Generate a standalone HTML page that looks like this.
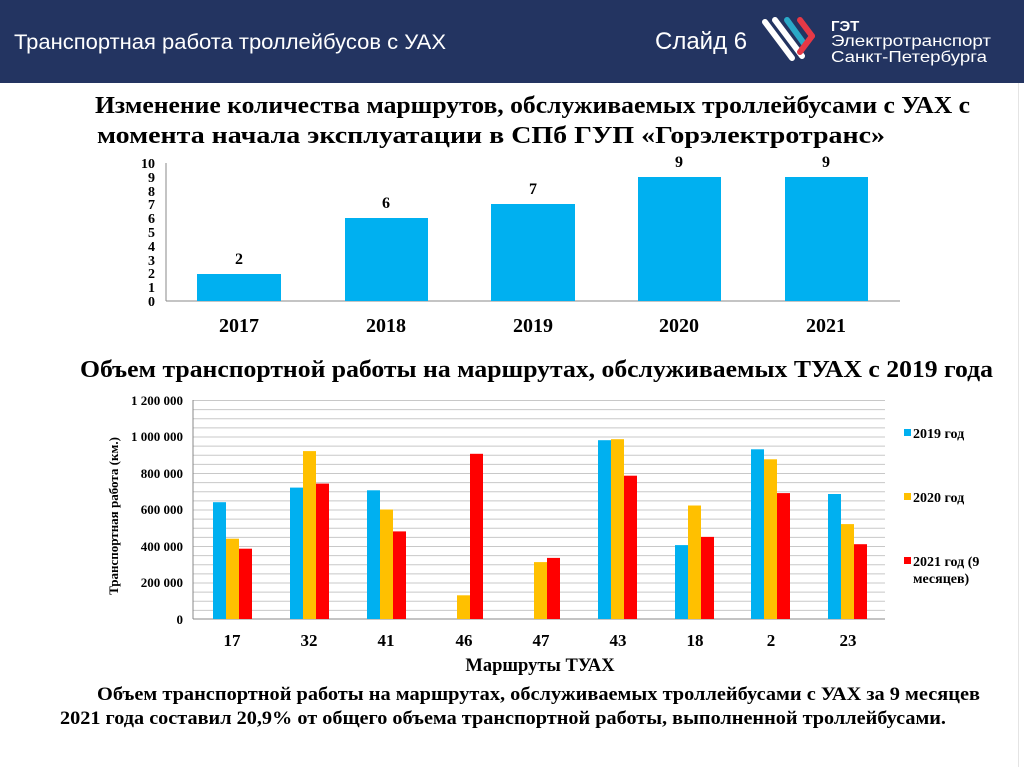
<!DOCTYPE html>
<html><head><meta charset="utf-8"><style>
body{margin:0;width:1024px;height:767px;background:#fff;overflow:hidden}
svg{display:block}
.s{font-family:"Liberation Serif",serif;font-weight:bold;fill:#000}
</style></head><body>
<svg width="1024" height="767" xmlns="http://www.w3.org/2000/svg">
<rect x="0" y="0" width="1024" height="83" fill="#233461"/>
<text x="14" y="49" font-family="Liberation Sans,sans-serif" font-size="21" fill="#fff" textLength="432" lengthAdjust="spacingAndGlyphs">Транспортная работа троллейбусов с УАХ</text>
<text x="655" y="49" font-family="Liberation Sans,sans-serif" font-size="24" fill="#fff">Слайд 6</text>
<g stroke-linecap="round" stroke-width="6" fill="none">
<line x1="765" y1="22" x2="792" y2="58" stroke="#fff"/>
<line x1="775" y1="20" x2="802" y2="56" stroke="#fff"/>
<line x1="787" y1="20" x2="805" y2="45" stroke="#2aa9c8"/>
<line x1="800" y1="20" x2="812" y2="36" stroke="#e63946"/>
<line x1="812" y1="36" x2="800" y2="52" stroke="#e63946"/>
</g>
<text x="831" y="31" font-family="Liberation Sans,sans-serif" font-size="15" font-weight="bold" fill="#fff">ГЭТ</text>
<text x="831" y="46" font-family="Liberation Sans,sans-serif" font-size="16" fill="#fff" textLength="160" lengthAdjust="spacingAndGlyphs">Электротранспорт</text>
<text x="831" y="62" font-family="Liberation Sans,sans-serif" font-size="16" fill="#fff" textLength="156" lengthAdjust="spacingAndGlyphs">Санкт-Петербурга</text>
<rect x="1018" y="83" width="1" height="684" fill="#e4e4e4"/>

<text x="95" y="113" class="s" font-size="24" textLength="875" lengthAdjust="spacingAndGlyphs">Изменение количества маршрутов, обслуживаемых троллейбусами с УАХ с</text>
<text x="97" y="143" class="s" font-size="24" textLength="788" lengthAdjust="spacingAndGlyphs">момента начала эксплуатации в СПб ГУП «Горэлектротранс»</text>

<line x1="166" y1="163" x2="166" y2="301" stroke="#888"/>
<line x1="166" y1="301" x2="900" y2="301" stroke="#888"/>
<g class="s" font-size="14" text-anchor="end">
<text x="155" y="168">10</text><text x="155" y="182">9</text><text x="155" y="196">8</text><text x="155" y="209">7</text><text x="155" y="223">6</text><text x="155" y="237">5</text><text x="155" y="251">4</text><text x="155" y="265">3</text><text x="155" y="278">2</text><text x="155" y="292">1</text><text x="155" y="306">0</text>
</g>
<g fill="#00b0f0">
<rect x="197" y="274" width="84" height="27"/>
<rect x="345" y="218" width="83" height="83"/>
<rect x="491" y="204" width="84" height="97"/>
<rect x="638" y="177" width="83" height="124"/>
<rect x="785" y="177" width="83" height="124"/>
</g>
<g class="s" font-size="16" text-anchor="middle">
<text x="239" y="264">2</text><text x="386" y="208">6</text><text x="533" y="194">7</text><text x="679" y="167">9</text><text x="826" y="167">9</text>
</g>
<g class="s" font-size="20" text-anchor="middle">
<text x="239" y="332">2017</text><text x="386" y="332">2018</text><text x="533" y="332">2019</text><text x="679" y="332">2020</text><text x="826" y="332">2021</text>
</g>

<text x="80" y="377" class="s" font-size="24" textLength="913" lengthAdjust="spacingAndGlyphs">Объем транспортной работы на маршрутах, обслуживаемых ТУАХ с 2019 года</text>

<g stroke="#c8c8c8" stroke-width="1">
<line x1="193" x2="885" y1="400.5" y2="400.5"/><line x1="193" x2="885" y1="409.6" y2="409.6"/><line x1="193" x2="885" y1="418.7" y2="418.7"/><line x1="193" x2="885" y1="427.9" y2="427.9"/><line x1="193" x2="885" y1="437" y2="437"/><line x1="193" x2="885" y1="446.1" y2="446.1"/><line x1="193" x2="885" y1="455.2" y2="455.2"/><line x1="193" x2="885" y1="464.4" y2="464.4"/><line x1="193" x2="885" y1="473.5" y2="473.5"/><line x1="193" x2="885" y1="482.6" y2="482.6"/><line x1="193" x2="885" y1="491.7" y2="491.7"/><line x1="193" x2="885" y1="500.9" y2="500.9"/><line x1="193" x2="885" y1="510" y2="510"/><line x1="193" x2="885" y1="519.1" y2="519.1"/><line x1="193" x2="885" y1="528.2" y2="528.2"/><line x1="193" x2="885" y1="537.4" y2="537.4"/><line x1="193" x2="885" y1="546.5" y2="546.5"/><line x1="193" x2="885" y1="555.6" y2="555.6"/><line x1="193" x2="885" y1="564.7" y2="564.7"/><line x1="193" x2="885" y1="573.9" y2="573.9"/><line x1="193" x2="885" y1="583" y2="583"/><line x1="193" x2="885" y1="592.1" y2="592.1"/><line x1="193" x2="885" y1="601.2" y2="601.2"/><line x1="193" x2="885" y1="610.4" y2="610.4"/>
</g>
<line x1="193" y1="400" x2="193" y2="619" stroke="#888"/>
<line x1="193" y1="619" x2="885" y2="619" stroke="#888"/>
<g class="s" font-size="13" text-anchor="end">
<text x="183" y="405">1 200 000</text><text x="183" y="441">1 000 000</text><text x="183" y="478">800 000</text><text x="183" y="514">600 000</text><text x="183" y="551">400 000</text><text x="183" y="587">200 000</text><text x="183" y="624">0</text>
</g>
<text transform="translate(118,516) rotate(-90)" text-anchor="middle" class="s" font-size="13">Транспортная работа (км.)</text>
<g>
<rect x="213" y="502.2" width="13" height="116.8" fill="#00b0f0"/><rect x="226" y="538.7" width="13" height="80.3" fill="#ffc000"/><rect x="239" y="548.7" width="13" height="70.3" fill="#ff0000"/>
<rect x="290" y="487.6" width="13" height="131.4" fill="#00b0f0"/><rect x="303" y="451.1" width="13" height="167.9" fill="#ffc000"/><rect x="316" y="483.6" width="13" height="135.4" fill="#ff0000"/>
<rect x="367" y="490.3" width="13" height="128.7" fill="#00b0f0"/><rect x="380" y="509.5" width="13" height="109.5" fill="#ffc000"/><rect x="393" y="531.4" width="13" height="87.6" fill="#ff0000"/>
<rect x="457" y="595.3" width="13" height="23.7" fill="#ffc000"/><rect x="470" y="453.8" width="13" height="165.2" fill="#ff0000"/>
<rect x="534" y="562.1" width="13" height="56.9" fill="#ffc000"/><rect x="547" y="557.9" width="13" height="61.1" fill="#ff0000"/>
<rect x="598" y="440.2" width="13" height="178.8" fill="#00b0f0"/><rect x="611" y="439.2" width="13" height="179.8" fill="#ffc000"/><rect x="624" y="475.7" width="13" height="143.3" fill="#ff0000"/>
<rect x="675" y="545.1" width="13" height="73.9" fill="#00b0f0"/><rect x="688" y="505.5" width="13" height="113.5" fill="#ffc000"/><rect x="701" y="536.9" width="13" height="82.1" fill="#ff0000"/>
<rect x="751" y="449.3" width="13" height="169.7" fill="#00b0f0"/><rect x="764" y="459.3" width="13" height="159.7" fill="#ffc000"/><rect x="777" y="493.1" width="13" height="125.9" fill="#ff0000"/>
<rect x="828" y="494" width="13" height="125" fill="#00b0f0"/><rect x="841" y="524.1" width="13" height="94.9" fill="#ffc000"/><rect x="854" y="544.2" width="13" height="74.8" fill="#ff0000"/>
</g>
<g class="s" font-size="17" text-anchor="middle">
<text x="232" y="646">17</text><text x="309" y="646">32</text><text x="386" y="646">41</text><text x="464" y="646">46</text><text x="541" y="646">47</text><text x="618" y="646">43</text><text x="695" y="646">18</text><text x="771" y="646">2</text><text x="848" y="646">23</text>
</g>
<text x="540" y="671" text-anchor="middle" class="s" font-size="18.5">Маршруты ТУАХ</text>
<rect x="904" y="429" width="7" height="7" fill="#00b0f0"/>
<text x="913" y="438" class="s" font-size="14">2019 год</text>
<rect x="904" y="493" width="7" height="7" fill="#ffc000"/>
<text x="913" y="502" class="s" font-size="14">2020 год</text>
<rect x="904" y="557" width="7" height="7" fill="#ff0000"/>
<text x="913" y="566" class="s" font-size="14">2021 год (9</text>
<text x="913" y="583" class="s" font-size="14">месяцев)</text>

<text x="97" y="700" class="s" font-size="18.5" textLength="883" lengthAdjust="spacingAndGlyphs">Объем транспортной работы на маршрутах, обслуживаемых троллейбусами с УАХ за 9 месяцев</text>
<text x="60" y="724" class="s" font-size="18.5" textLength="886" lengthAdjust="spacingAndGlyphs">2021 года составил 20,9% от общего объема транспортной работы, выполненной троллейбусами.</text>
</svg>
</body></html>
